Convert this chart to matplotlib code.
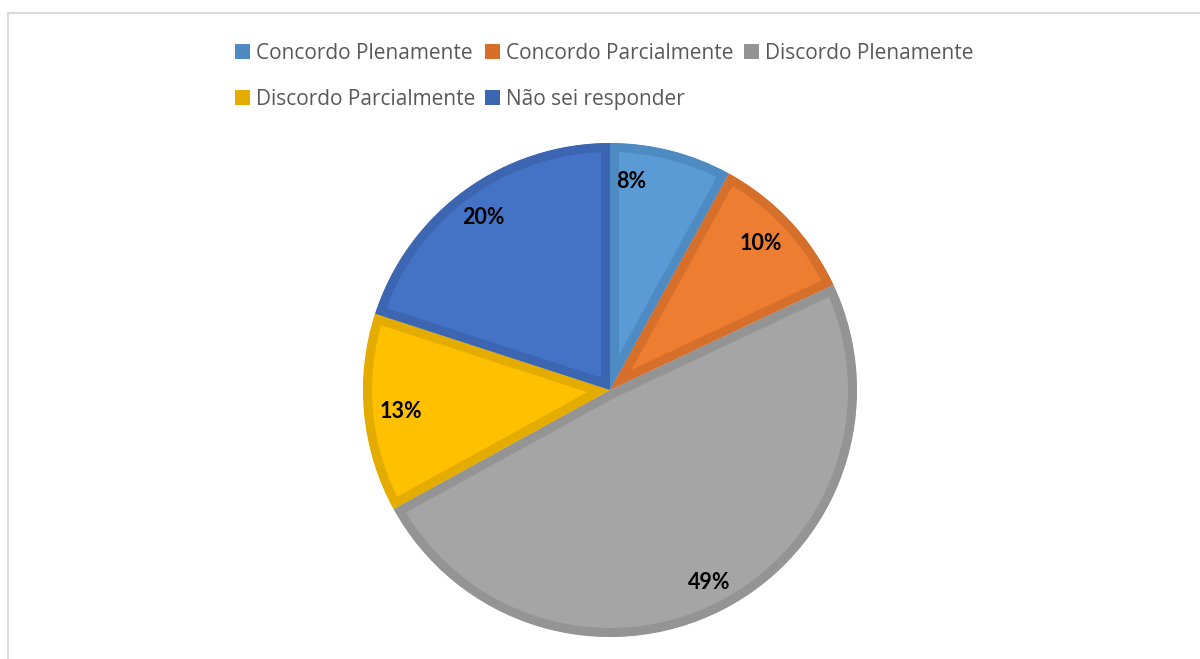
import matplotlib
matplotlib.use("Agg")
import matplotlib.pyplot as plt
from matplotlib.patches import Rectangle, Patch
import numpy as np

categories = ["Concordo Plenamente", "Concordo Parcialmente", "Discordo Plenamente",
              "Discordo Parcialmente", "Não sei responder"]
values = [8, 10, 49, 13, 20]
labels = ["8%", "10%", "49%", "13%", "20%"]

fill_colors = ["#5B9BD5", "#ED7D31", "#A5A5A5", "#FFC000", "#4472C4"]
edge_colors = ["#4E8BC2", "#D56F2A", "#949494", "#E5AC00", "#3D66B2"]

W, H = 1200, 659
fig = plt.figure(figsize=(W / 100, H / 100), dpi=100)
ax = fig.add_axes([0, 0, 1, 1])

cx, cy, r = 610, H - 390, 247

wedges, _ = ax.pie(values, colors=fill_colors, startangle=90, counterclock=False,
                   center=(cx, cy), radius=r, frame=True,
                   wedgeprops=dict(linewidth=13, edgecolor="none"))
# each slice gets an inner border in a darker shade of its fill
for w, ec in zip(wedges, edge_colors):
    w.set_edgecolor(ec)
    w.set_clip_on(True)
    w.set_clip_path(w)

# data labels placed along each slice's mid-angle
label_dist = 0.85
angle_shift = [8.5, 1.0, 0.3, 0.6, 0.3]
dist_scale = [1.0, 1.0, 1.03, 1.0, 1.02]
start = 90.0
for v, lab, sh, ds in zip(values, labels, angle_shift, dist_scale):
    span = v / sum(values) * 360.0
    mid = np.deg2rad(start - span / 2 + sh)
    start -= span
    ax.text(cx + r * label_dist * ds * np.cos(mid), cy + r * label_dist * ds * np.sin(mid), lab,
            ha="center", va="center", fontsize=15.5, fontweight="bold",
            family=["Lato", "DejaVu Sans"], color="black")

ax.set_xlim(0, W)
ax.set_ylim(0, H)
ax.set_aspect("equal")
ax.axis("off")

# chart frame
ax.add_patch(Rectangle((8, -10), W, H - 13 + 10, fill=False, edgecolor="#D9D9D9",
                       linewidth=1.5, clip_on=False))

# legend, entries laid out row by row
order = [0, 3, 1, 4, 2]
handles = [Patch(facecolor=edge_colors[i]) for i in order]
fig.legend(handles, [categories[i] for i in order], ncol=3, loc="upper left",
           bbox_to_anchor=(216 / W, 1 - 24 / H), frameon=False,
           prop=dict(family=["Open Sans", "DejaVu Sans"], size=15),
           labelcolor="#595959", handlelength=0.72, handleheight=0.72,
           handletextpad=0.28, columnspacing=0.5, labelspacing=1.2)

fig.savefig("out.png", dpi=100)
